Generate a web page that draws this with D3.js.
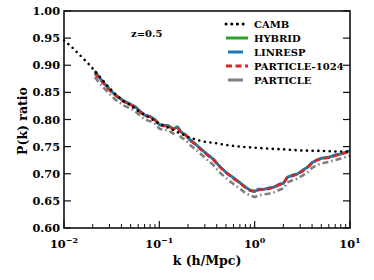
<!DOCTYPE html>
<html><head><meta charset="utf-8">
<script src="https://cdn.jsdelivr.net/npm/d3@7"></script>
<style>
body{margin:0;background:#fff;}
text{font-family:"DejaVu Serif",serif;font-weight:bold;fill:#000;}
</style></head>
<body><svg id="c" width="374" height="280"></svg>
<script>
const kCamb = [0.01,0.012,0.015,0.018,0.021,0.025,0.03,0.035,0.042,0.05,0.06,0.07,0.08,0.1,0.12,0.15,0.2,0.25,0.3,0.4,0.5,0.7,1,1.5,2,3,5,7,10];
const camb  = [0.946,0.934,0.917,0.903,0.890,0.874,0.858,0.846,0.834,0.826,0.816,0.808,0.803,0.792,0.786,0.778,0.768,0.762,0.759,0.756,0.753,0.750,0.748,0.746,0.745,0.743,0.742,0.741,0.741];

const kSim = [0.021,0.025,0.03,0.035,0.042,0.05,0.056,0.063,0.07,0.08,0.09,0.1,0.11,0.125,0.14,0.155,0.17,0.19,0.21,0.24,0.27,0.3,0.33,0.37,0.42,0.5,0.6,0.7,0.8,0.9,1.0,1.1,1.25,1.4,1.6,1.8,2.0,2.2,2.5,2.8,3.2,3.6,4.0,4.5,5.0,6.0,7.0,8.0,10];
const hybrid   = [0.890,0.872,0.856,0.845,0.835,0.828,0.824,0.815,0.808,0.806,0.800,0.790,0.789,0.789,0.783,0.787,0.776,0.772,0.762,0.755,0.746,0.740,0.733,0.727,0.715,0.703,0.692,0.684,0.675,0.670,0.668,0.671,0.672,0.673,0.676,0.680,0.683,0.694,0.697,0.700,0.706,0.713,0.720,0.726,0.728,0.731,0.734,0.737,0.742];
const linresp  = [0.888,0.871,0.855,0.844,0.834,0.828,0.823,0.815,0.809,0.805,0.800,0.791,0.790,0.788,0.782,0.786,0.777,0.771,0.763,0.754,0.747,0.739,0.734,0.726,0.716,0.702,0.693,0.683,0.676,0.669,0.667,0.672,0.671,0.674,0.675,0.681,0.682,0.693,0.698,0.699,0.707,0.712,0.721,0.725,0.729,0.730,0.735,0.736,0.743];
const part1024 = [0.885,0.870,0.854,0.844,0.833,0.827,0.822,0.814,0.807,0.805,0.799,0.790,0.788,0.788,0.782,0.786,0.775,0.771,0.761,0.754,0.745,0.739,0.732,0.726,0.714,0.702,0.691,0.683,0.674,0.669,0.667,0.670,0.671,0.672,0.675,0.679,0.682,0.693,0.696,0.699,0.705,0.712,0.719,0.725,0.727,0.730,0.733,0.736,0.741];
const particle = [0.878,0.862,0.847,0.836,0.826,0.820,0.815,0.807,0.800,0.797,0.792,0.783,0.781,0.780,0.774,0.777,0.767,0.762,0.753,0.745,0.737,0.730,0.723,0.716,0.704,0.692,0.681,0.673,0.664,0.660,0.657,0.660,0.662,0.663,0.666,0.670,0.673,0.684,0.688,0.691,0.697,0.703,0.711,0.716,0.719,0.722,0.725,0.728,0.733];

const yTicks = [0.60,0.65,0.70,0.75,0.80,0.85,0.90,0.95,1.00];
const xMajor = [0.01,0.1,1,10];
const xExp = ["\u22122","\u22121","0","1"];
const seriesNames = ["CAMB","HYBRID","LINRESP","PARTICLE-1024","PARTICLE"];

const svg = d3.select("#c");
const L=64,R=350,T=11,B=228;
const x = d3.scaleLog().domain([0.01,10]).range([L,R]);
const y = d3.scaleLinear().domain([0.6,1.0]).range([B,T]);

const styles = [
  {c:"#000",dash:"0.1,5.6",w:2.6,cap:"round"},
  {c:"#2ca02c",dash:null,w:2.6,cap:"butt"},
  {c:"#1f77b4",dash:null,w:2.6,cap:"butt"},
  {c:"#d62728",dash:"6,3.5",w:2.6,cap:"butt"},
  {c:"#7f7f7f",dash:"6,3,1.5,3",w:2.6,cap:"butt"}
];

const line = d3.line().x(d=>x(d[0])).y(d=>y(d[1]));
const data = [
  d3.zip(kCamb,camb), d3.zip(kSim,hybrid), d3.zip(kSim,linresp), d3.zip(kSim,part1024), d3.zip(kSim,particle)
];
const g = svg.append("g");
const order=[4,1,2,3,0];
order.forEach(i=>{
  const s=styles[i];
  g.append("path").attr("d",line(data[i])).attr("fill","none")
   .attr("stroke",s.c).attr("stroke-width",s.w).attr("stroke-linecap",s.cap)
   .attr("stroke-linejoin","round").attr("stroke-dasharray",s.dash);
});

// frame
svg.append("rect").attr("x",L).attr("y",T).attr("width",R-L).attr("height",B-T)
  .attr("fill","none").attr("stroke","#111").attr("stroke-width",1.6);

// y ticks
yTicks.forEach(v=>{
  svg.append("line").attr("x1",L).attr("x2",L+7).attr("y1",y(v)).attr("y2",y(v)).attr("stroke","#111").attr("stroke-width",1.2);
  svg.append("line").attr("x1",R).attr("x2",R-7).attr("y1",y(v)).attr("y2",y(v)).attr("stroke","#111").attr("stroke-width",1.2);
  svg.append("text").attr("x",L-4).attr("y",y(v)+4).attr("text-anchor","end").attr("font-size",11.3).text(v.toFixed(2));
});
// x ticks
const minor=[];
[0.01,0.1,1].forEach(d=>{for(let m=2;m<=9;m++)minor.push(d*m);});
minor.forEach(v=>{
  svg.append("line").attr("x1",x(v)).attr("x2",x(v)).attr("y1",B).attr("y2",B-4).attr("stroke","#111").attr("stroke-width",1);
});
xMajor.forEach((v,i)=>{
  svg.append("line").attr("x1",x(v)).attr("x2",x(v)).attr("y1",B).attr("y2",B-7).attr("stroke","#111").attr("stroke-width",1.2);
  const t=svg.append("text").attr("x",x(v)).attr("y",B+20).attr("text-anchor","middle").attr("font-size",11.3);
  t.append("tspan").text("10");
  t.append("tspan").attr("dy",-5).attr("font-size",8).text(xExp[i]);
});

svg.append("text").attr("x",207).attr("y",265).attr("text-anchor","middle").attr("font-size",12.5).text("k (h/Mpc)");
svg.append("text").attr("transform",`translate(27,121) rotate(-90)`).attr("text-anchor","middle").attr("font-size",12.5).text("P(k) ratio");
svg.append("text").attr("x",131).attr("y",37).attr("font-size",10).text("z=0.5");

// legend
seriesNames.forEach((n,i)=>{
  const yy=24+i*14, s=styles[i];
  svg.append("line").attr("x1",i===2||i===4?228:226).attr("x2",i===2||i===4?243:248).attr("y1",yy).attr("y2",yy)
    .attr("stroke",s.c).attr("stroke-width",3).attr("stroke-linecap",s.cap)
    .attr("stroke-dasharray",i===4?null:s.dash);
  svg.append("text").attr("x",254).attr("y",yy+3.5).attr("font-size",10).text(n);
});
</script></body></html>
